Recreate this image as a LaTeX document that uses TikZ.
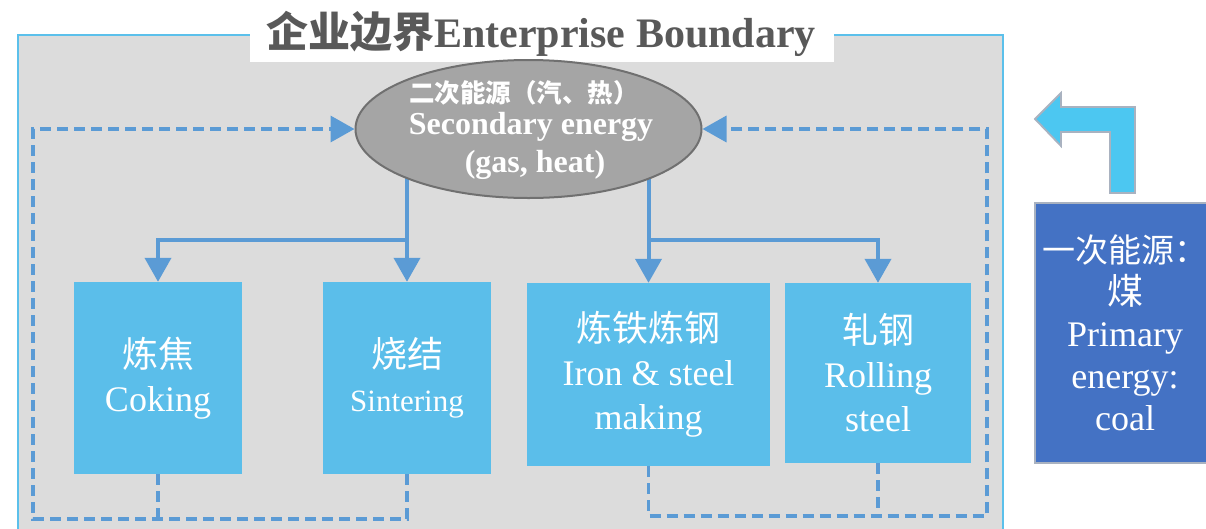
\documentclass[tikz,border=0pt]{standalone}
\usepackage{fontspec}
\setmainfont{Liberation Serif}
\newfontfamily\cjk{Noto Sans CJK SC}
\usetikzlibrary{arrows.meta,shapes.geometric}

\definecolor{zoneline}{HTML}{5BC0EB}
\definecolor{zonefill}{HTML}{DCDCDC}
\definecolor{procfill}{HTML}{5BBEEA}
\definecolor{flowblue}{HTML}{5B9BD5}
\definecolor{secfill}{HTML}{A5A5A5}
\definecolor{secline}{HTML}{707070}
\definecolor{titlegray}{HTML}{595959}
\definecolor{primfill}{HTML}{4472C4}
\definecolor{primline}{HTML}{A9B2C0}
\definecolor{bentfill}{HTML}{4CC7F1}

\pgfdeclarelayer{back}
\pgfdeclarelayer{wires}
\pgfsetlayers{back,wires,main}

\tikzset{
  zone/.style={draw=zoneline, line width=2pt, fill=zonefill},
  proc/.style={rectangle, fill=procfill, text=white, align=center,
    inner sep=0pt, font=\fontsize{36}{44}\selectfont},
  secnode/.style={ellipse, draw=secline, line width=2pt, fill=secfill,
    inner sep=0pt},
  sectext/.style={text=white, inner sep=0pt, font=\bfseries\fontsize{32}{36}\selectfont},
  flow/.style={draw=flowblue, line width=4pt,
    -{Triangle[length=24pt,width=26pt]}},
  ret/.style={draw=flowblue, line width=3.5pt, dash pattern=on 11pt off 6pt,
    -{Triangle[length=24pt,width=26pt]}},
  retplain/.style={draw=flowblue, line width=3.5pt, dash pattern=on 11pt off 6pt},
  primbox/.style={rectangle, fill=primfill, draw=primline, line width=2pt,
    text=white, align=center, inner sep=0pt,
    font=\fontsize{36}{42}\selectfont},
  bent/.style={fill=bentfill, draw=primline, line width=1.8pt, line join=miter},
}

\begin{document}
\begin{tikzpicture}[x=1pt,y=-1pt]
\useasboundingbox (0,0) rectangle (1206,528);

\begin{pgfonlayer}{back}
  \fill[white] (0,0) rectangle (1206,528);
  % enterprise boundary
  \draw[zone] (18,35) rectangle (1003,560);
\end{pgfonlayer}

% title on its white label
\node[fill=white, minimum width=584pt, minimum height=64pt, inner sep=0pt]
  (titlebg) at (542,30) {};
\node[text=titlegray, inner sep=0pt, font=\bfseries\fontsize{42}{48}\selectfont]
  (title) at (541,34) {{\cjk\bfseries 企业边界}Enterprise Boundary};

% secondary energy
\node[secnode, minimum width=346pt, minimum height=138pt] (sec) at (528.5,129) {};
\node[text=white, inner sep=0pt, font=\cjk\bfseries\fontsize{25.5}{28}\selectfont]
  (seczh) at (524,93) {二次能源（汽、热）};
\node[sectext] (secen) at (531,127) {Secondary energy};
\node[sectext] (secgh) at (535,165) {(gas, heat)};

% process units
\node[proc, minimum width=168pt, minimum height=192pt] (cok) at (158,378)
  {{\cjk 炼焦}\\Coking};
\node[proc, minimum width=168pt, minimum height=192pt] (sint) at (407,378)
  {{\cjk 烧结}\\{\fontsize{31}{44}\selectfont Sintering}};
\node[proc, minimum width=243pt, minimum height=183pt] (iron) at (648.5,374.5)
  {{\cjk 炼铁炼钢}\\Iron \& steel\\making};
\node[proc, minimum width=186pt, minimum height=180pt] (roll) at (878,373)
  {{\cjk 轧钢}\\Rolling\\steel};

% primary energy input
\node[primbox, minimum width=180pt, minimum height=260pt] (prim) at (1125,333)
  {{\cjk\fontsize{33}{42}\selectfont 一次能源：}\\{\cjk 煤}\\Primary\\energy:\\coal};
\draw[bent] (1035,119) -- (1061,93) -- (1061,107) -- (1135,107) -- (1135,193)
  -- (1110,193) -- (1110,132) -- (1061,132) -- (1061,146) -- cycle;

% junction points
\coordinate (lj) at (158,240);
\coordinate (rj) at (878,240);
\coordinate (lb) at (33,519);
\coordinate (rb) at (987,516);

\begin{pgfonlayer}{wires}
  % supply of secondary energy
  \draw[flow] (sec.center -| sint.north) -- (sint.north);
  \draw[flow] (sec.center -| sint.north) |- (lj) -- (cok.north);
  \draw[flow] (sec.center -| iron.north) -- (iron.north);
  \draw[flow] (sec.center -| iron.north) |- (rj) -- (roll.north);
  % recovered energy returned
  \draw[retplain] (cok.south) -- (cok.south |- lb);
  \draw[ret] (sint.south) |- (lb) |- (sec.west);
  \draw[retplain] (roll.south) -- (roll.south |- rb);
  \draw[ret] (iron.south) |- (rb) |- (sec.east);
\end{pgfonlayer}
\end{tikzpicture}
\end{document}
